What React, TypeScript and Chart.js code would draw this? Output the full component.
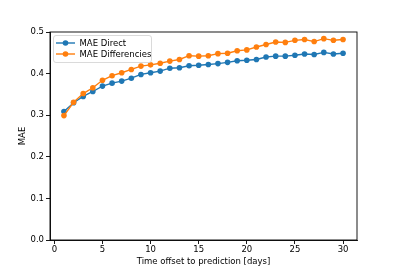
import React, { useEffect, useRef } from "react";
import { Chart, registerables } from "chart.js";

Chart.register(...registerables);

const days = [1, 2, 3, 4, 5, 6, 7, 8, 9, 10, 11, 12, 13, 14, 15, 16, 17, 18, 19, 20, 21, 22, 23, 24, 25, 26, 27, 28, 29, 30];
const maeDirect = [0.309, 0.330, 0.345, 0.357, 0.370, 0.377, 0.382, 0.389, 0.398, 0.402, 0.406, 0.413, 0.414, 0.419, 0.420, 0.422, 0.424, 0.427, 0.431, 0.432, 0.434, 0.440, 0.442, 0.442, 0.444, 0.447, 0.446, 0.451, 0.447, 0.449];
const maeDifferencies = [0.299, 0.331, 0.352, 0.366, 0.384, 0.395, 0.402, 0.410, 0.418, 0.421, 0.425, 0.430, 0.434, 0.443, 0.442, 0.443, 0.448, 0.449, 0.455, 0.457, 0.464, 0.470, 0.476, 0.475, 0.480, 0.482, 0.477, 0.484, 0.480, 0.482];
const xTicks = [0, 5, 10, 15, 20, 25, 30];
const yTicks = [0, 0.1, 0.2, 0.3, 0.4, 0.5];
const seriesNames = ["MAE Direct", "MAE Differencies"];
const seriesColors = ["#1f77b4", "#ff7f0e"];

const FONT = "'DejaVu Sans', sans-serif";

const framePlugin = {
  id: "frame",
  afterDatasetsDraw(chart: any) {
    const { ctx, chartArea } = chart;
    ctx.save();
    ctx.strokeStyle = "#000";
    ctx.lineWidth = 0.9;
    ctx.strokeRect(chartArea.left, chartArea.top, chartArea.right - chartArea.left, chartArea.bottom - chartArea.top);
    ctx.restore();
  },
};

const legendPlugin = {
  id: "mplLegend",
  afterDraw(chart: any) {
    const { ctx, chartArea } = chart;
    const x0 = chartArea.left + 3.5;
    const y0 = chartArea.top + 3.5;
    const w = 98;
    const h = 27;
    const r = 2.5;
    ctx.save();
    ctx.beginPath();
    ctx.moveTo(x0 + r, y0);
    ctx.lineTo(x0 + w - r, y0);
    ctx.arcTo(x0 + w, y0, x0 + w, y0 + r, r);
    ctx.lineTo(x0 + w, y0 + h - r);
    ctx.arcTo(x0 + w, y0 + h, x0 + w - r, y0 + h, r);
    ctx.lineTo(x0 + r, y0 + h);
    ctx.arcTo(x0, y0 + h, x0, y0 + h - r, r);
    ctx.lineTo(x0, y0 + r);
    ctx.arcTo(x0, y0, x0 + r, y0, r);
    ctx.closePath();
    ctx.fillStyle = "rgba(255,255,255,0.8)";
    ctx.fill();
    ctx.strokeStyle = "#d0d0d0";
    ctx.lineWidth = 0.8;
    ctx.stroke();
    const datasets = chart.data.datasets;
    datasets.forEach((ds: any, i: number) => {
      const cy = y0 + 7.5 + i * 11;
      const lx = x0 + 2.5;
      ctx.strokeStyle = ds.borderColor;
      ctx.lineWidth = 1.4;
      ctx.beginPath();
      ctx.moveTo(lx, cy);
      ctx.lineTo(lx + 19, cy);
      ctx.stroke();
      ctx.fillStyle = ds.backgroundColor;
      ctx.beginPath();
      ctx.arc(lx + 9.5, cy, 2.8, 0, Math.PI * 2);
      ctx.fill();
      ctx.fillStyle = "#000";
      ctx.font = `8.5px ${FONT}`;
      ctx.textBaseline = "middle";
      ctx.textAlign = "left";
      ctx.fillText(ds.label, lx + 23.5, cy + 0.5);
    });
    ctx.restore();
  },
};

export default function App() {
  const canvasRef = useRef<HTMLCanvasElement | null>(null);

  useEffect(() => {
    if (!canvasRef.current) return;
    const makeData = (vals: number[]) => days.map((d, i) => ({ x: d, y: vals[i] }));
    const chart = new Chart(canvasRef.current, {
      type: "line",
      data: {
        datasets: [
          {
            label: seriesNames[0],
            data: makeData(maeDirect),
            borderColor: seriesColors[0],
            backgroundColor: seriesColors[0],
            borderWidth: 1.4,
            pointRadius: 2.8,
            pointBorderWidth: 0,
            pointHoverRadius: 2.8,
            tension: 0,
            order: 1,
          },
          {
            label: seriesNames[1],
            data: makeData(maeDifferencies),
            borderColor: seriesColors[1],
            backgroundColor: seriesColors[1],
            borderWidth: 1.4,
            pointRadius: 2.8,
            pointBorderWidth: 0,
            pointHoverRadius: 2.8,
            tension: 0,
            order: 0,
          },
        ],
      },
      options: {
        animation: false,
        responsive: false,
        maintainAspectRatio: false,
        devicePixelRatio: 1,
        layout: { padding: { top: 32, right: 41, left: 0, bottom: 0 } },
        plugins: {
          legend: { display: false },
          tooltip: { enabled: false },
          title: { display: false },
        },
        scales: {
          x: {
            type: "linear",
            min: -0.45,
            max: 31.45,
            afterFit: (s: any) => { s.height = 30; },
            afterBuildTicks: (s: any) => { s.ticks = xTicks.map((v) => ({ value: v })); },
            grid: { drawOnChartArea: false, drawTicks: true, tickLength: 4, color: "#000", lineWidth: 0.9 },
            border: { display: true, color: "#000", width: 0.9 },
            ticks: {
              color: "#000",
              font: { family: FONT, size: 8.5 },
              padding: 1,
              maxRotation: 0,
              autoSkip: false,
              callback: (v: any) => String(v),
            },
            title: {
              display: true,
              text: "Time offset to prediction [days]",
              color: "#000",
              font: { family: FONT, size: 8.5 },
              padding: { top: 0, bottom: 3 },
            },
          },
          y: {
            type: "linear",
            min: 0,
            max: 0.5,
            afterFit: (s: any) => { s.width = 50; },
            afterBuildTicks: (s: any) => { s.ticks = yTicks.map((v) => ({ value: v })); },
            grid: { drawOnChartArea: false, drawTicks: true, tickLength: 4, color: "#000", lineWidth: 0.9 },
            border: { display: true, color: "#000", width: 0.9 },
            ticks: {
              color: "#000",
              font: { family: FONT, size: 8.5 },
              padding: 2,
              autoSkip: false,
              callback: (v: any) => Number(v).toFixed(1),
            },
            title: {
              display: true,
              text: "MAE",
              color: "#000",
              font: { family: FONT, size: 8.5 },
              padding: { top: 18, bottom: 0 },
            },
          },
        },
      },
      plugins: [framePlugin, legendPlugin],
    });
    return () => chart.destroy();
  }, []);

  return (
    <div style={{ position: "absolute", left: 0, top: 0, width: 398, height: 270, background: "#fff" }}>
      <canvas ref={canvasRef} width={398} height={270} style={{ width: 398, height: 270, display: "block" }} />
    </div>
  );
}
